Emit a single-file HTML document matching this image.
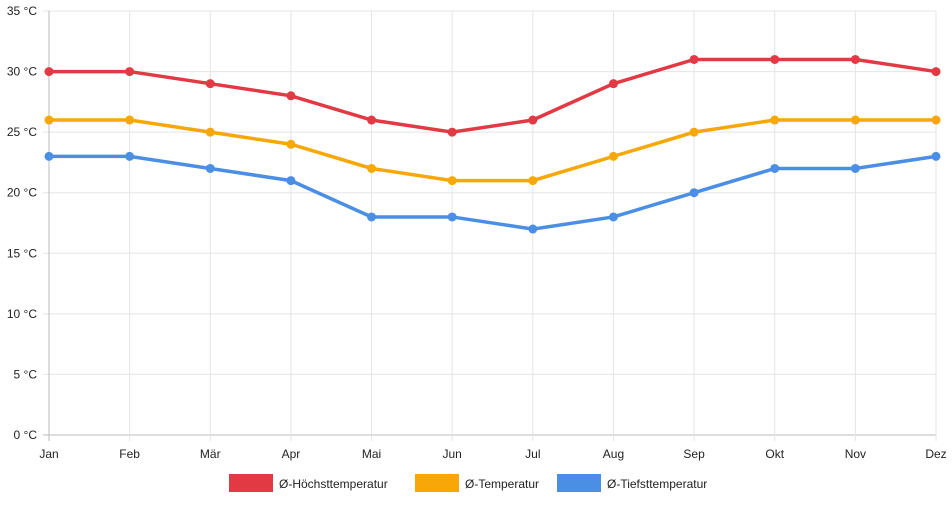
<!DOCTYPE html>
<html><head><meta charset="utf-8"><style>
body{margin:0;background:#fff;font-family:"Liberation Sans",sans-serif;}
svg text{font-family:"Liberation Sans",sans-serif;font-size:12px;fill:#222;}
</style></head><body>
<svg id="c" width="952" height="500"></svg>
<script>
const categories=["Jan","Feb","Mär","Apr","Mai","Jun","Jul","Aug","Sep","Okt","Nov","Dez"];
const maxTemp=[30,30,29,28,26,25,26,29,31,31,31,30];
const avgTemp=[26,26,25,24,22,21,21,23,25,26,26,26];
const minTemp=[23,23,22,21,18,18,17,18,20,22,22,23];
const yTicks=[0,5,10,15,20,25,30,35];
const seriesNames=["Ø-Höchsttemperatur","Ø-Temperatur","Ø-Tiefsttemperatur"];
const NS="http://www.w3.org/2000/svg",svg=document.getElementById('c');
const x0=49,x1=936,yb=435,yt=11;
const xs=i=>x0+(x1-x0)*i/(categories.length-1);
const ys=v=>yb-(yb-yt)*v/35;
function mk(t,a,p){const e=document.createElementNS(NS,t);for(const k in a)e.setAttribute(k,a[k]);(p||svg).appendChild(e);return e;}
yTicks.forEach(v=>{
 const l=mk('line',{x1:x0-6,x2:x1,y1:ys(v),y2:ys(v),stroke:v===0?'#bbb':'#e5e5e5'});
 
 const t=mk('text',{x:37,y:ys(v)+4,'text-anchor':'end'});t.textContent=v+' °C';
 
});
categories.forEach((c,i)=>{
 const l=mk('line',{x1:xs(i),x2:xs(i),y1:yt,y2:yb+6,stroke:i===0?'#bbb':'#e5e5e5'});
 
 const t=mk('text',{x:xs(i),y:yb+23,'text-anchor':'middle'});t.textContent=c;
 
});
const colors=["#e23a44","#f7a808","#4a8fe3"];
[maxTemp,avgTemp,minTemp].forEach((d,s)=>{
 const g=mk('g',{});
 const p=mk('polyline',{points:d.map((v,i)=>xs(i)+','+ys(v)).join(' '),fill:'none',stroke:colors[s],'stroke-width':3.5},g);
 
 d.forEach((v,i)=>{const c=mk('circle',{cx:xs(i),cy:ys(v),r:4.5,fill:colors[s]},g);
  });
});
const lx=[229,415,557];
seriesNames.forEach((n,s)=>{
 const g=mk('g',{});
 mk('rect',{x:lx[s],y:474,width:44,height:18,fill:colors[s]},g);
 const t=mk('text',{x:lx[s]+50,y:488},g);t.textContent=n;
});
</script>
</body></html>
